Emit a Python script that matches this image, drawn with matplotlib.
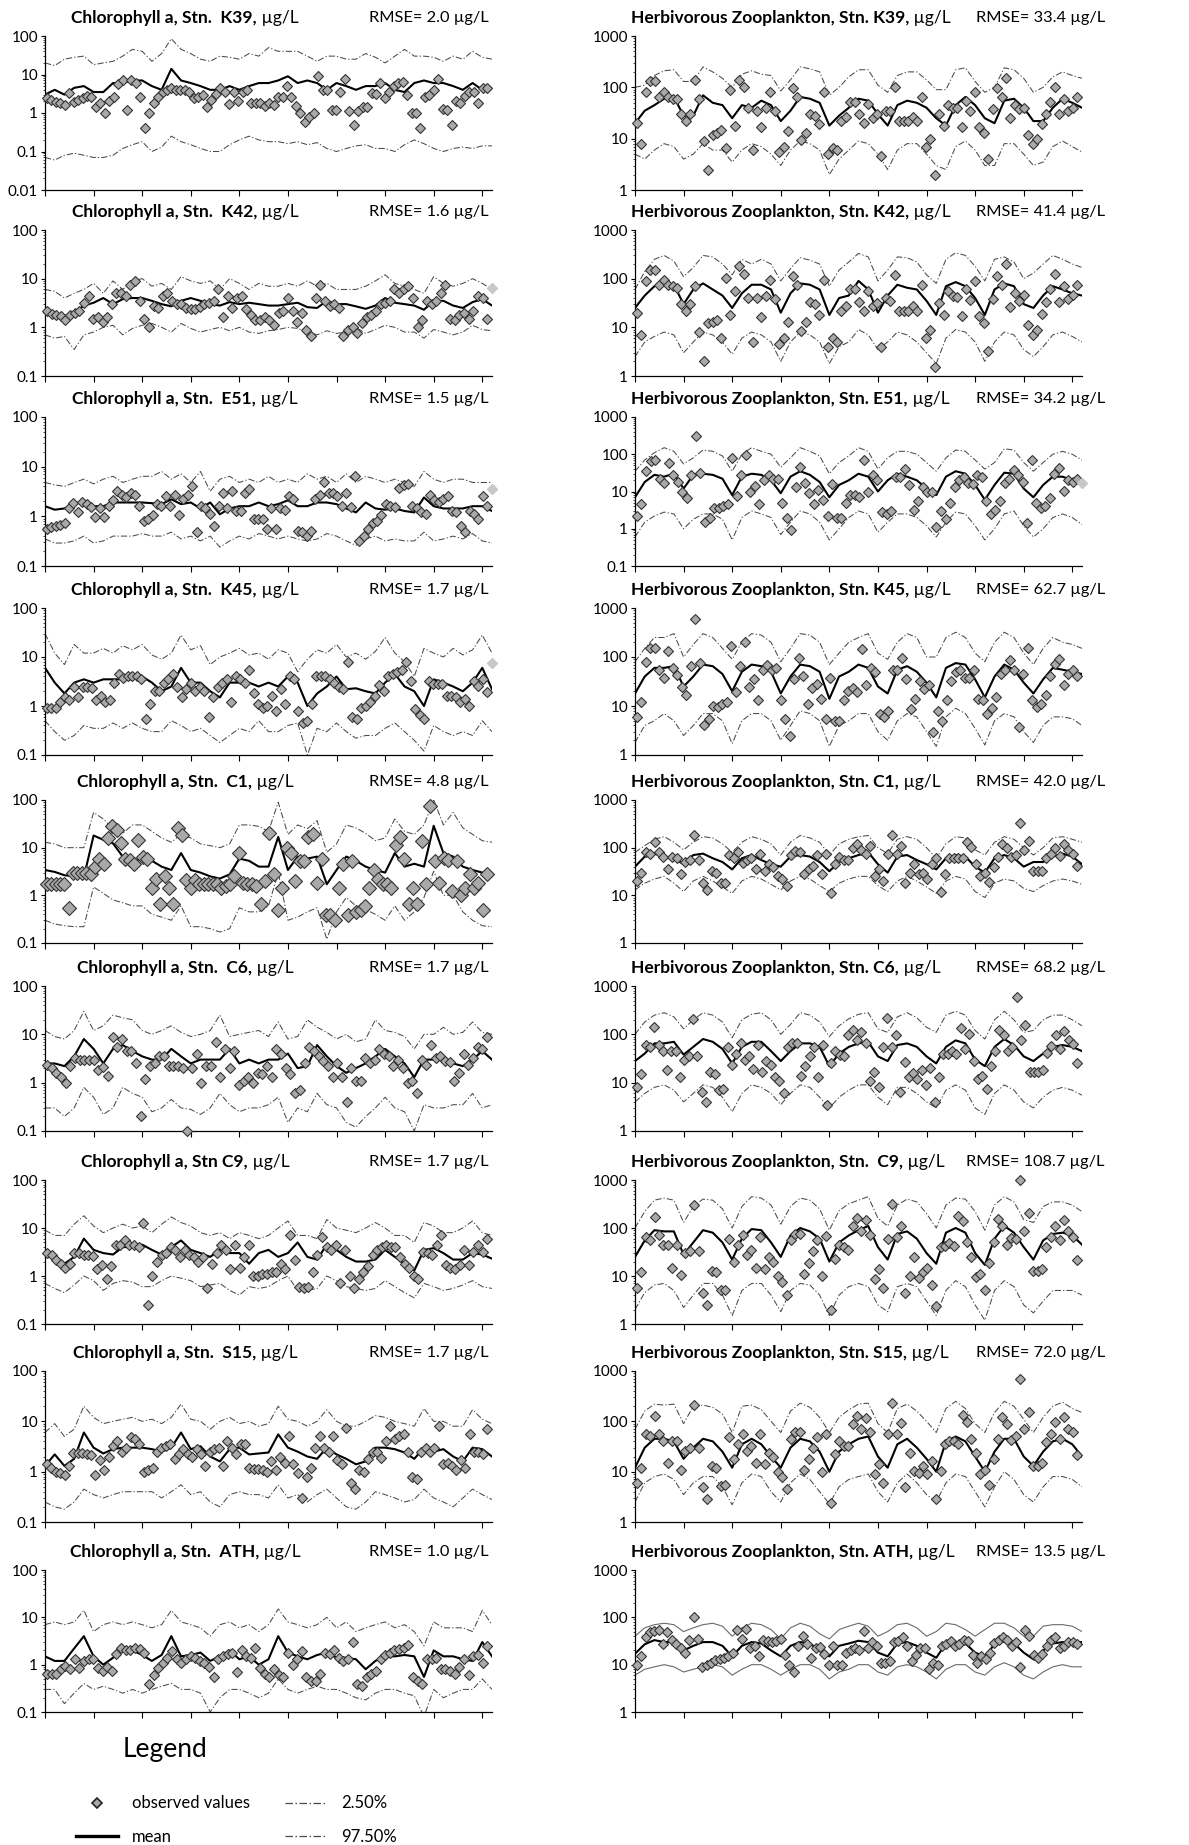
import numpy as np
import matplotlib
matplotlib.use('Agg')
import matplotlib.pyplot as plt
from matplotlib.lines import Line2D
from matplotlib.ticker import FixedLocator, LogLocator, NullFormatter, FuncFormatter

plt.rcParams['font.family'] = ['Lato', 'DejaVu Sans']

# ---------------- data ----------------
# lines: one value every 0.2 year, observations: roughly monthly
STEP = 0.2

stations = ['K39', 'K42', 'E51', 'K45', 'C1', 'C6', 'C9', 'S15', 'ATH']
chl_rmse = [2.0, 1.6, 1.5, 1.7, 4.8, 1.7, 1.7, 1.7, 1.0]
zoo_rmse = [33.4, 41.4, 34.2, 62.7, 42.0, 68.2, 108.7, 72.0, 13.5]
# faint extra point drawn at the right end of some panels
chl_edge = [None, 6.3, 3.5, 7.5, None, None, None, None, None]
zoo_edge = [None, None, 17, None, None, None, None, None, None]

# Chlorophyll a
chl_k39_hi = [20,17,25,28,30,18,20,22,30,45,40,22,35,85,45,35,25,22,30,28,25,35,30,50,40,40,40,30,22,30,30,25,25,35,28,20,30,45,30,30,28,22,30,25,40,28,25]
chl_k39_mean = [3,4,3,4.5,5,3.5,3.5,6,6,7,7,5,4,14,7,6,5,4,4,5,4,5,6,6,7,9,6,7,6,4,6,5,4,5,5,6,4,3.5,6,7,6,6,5,4,6,4,4.5]
chl_k39_lo = [0.07,0.06,0.08,0.09,0.08,0.07,0.07,0.08,0.12,0.15,0.18,0.1,0.13,0.25,0.18,0.15,0.12,0.1,0.1,0.15,0.2,0.25,0.2,0.18,0.18,0.16,0.18,0.15,0.17,0.12,0.1,0.12,0.14,0.15,0.12,0.12,0.1,0.15,0.2,0.16,0.12,0.1,0.12,0.13,0.12,0.14,0.14]
chl_k39_obs = [2.4,2.2,1.9,1.8,1.6,3.3,1.9,2.2,2.5,2.7,2.6,1.4,1.8,1.0,2.0,2.6,5.5,7,1.2,7,6,2.6,0.4,1.0,1.8,2.6,3.5,4,4.5,4,4,4,3.5,2.5,2.6,3,1.4,2.2,3.2,4.5,3.5,1.7,3.5,2,3.5,4,1.8,1.8,1.8,1.5,1.8,1.6,2.6,2.6,5,2.6,1.5,1.0,0.6,0.8,1.0,9,4,4,1.2,1.2,3.5,7.5,1.1,0.5,1.1,1.4,1.4,3.3,3.2,6,2.5,3.5,5,6,6.5,3,1.0,1.0,0.4,2.6,3,4,7.5,1.3,1.2,0.5,2,1.8,2.8,3.5,3.5,1.8,4.5,4.5]

chl_k42_hi = [6,5.5,4,5,6,8,5,9,6,9,10,7,8,6,11,9,8,9,6,10,8,6,8,7,7,8,7,9,7,8,6,6,6,7,9,12,8,7,6,5,11,8,7,8,10,8,6]
chl_k42_mean = [2.2,2,1.7,2,2.8,3.2,4,3,3.8,4,4,3.5,3,2.7,3.5,4,3.5,3,2.8,3.3,3,3.2,3,2.8,2.8,3,3.2,2.6,2.5,3.5,3,3,2.7,2.4,2.8,4,3.2,3,2.8,2.3,3.5,3.5,2.8,2.5,3.3,3.8,2.8]
chl_k42_lo = [0.7,0.6,0.65,0.35,0.7,0.8,1.0,1.1,0.7,0.95,1.1,1.2,1.0,0.8,1.2,0.95,0.8,0.9,1.0,0.85,1.0,0.8,0.75,0.85,0.9,1.0,0.95,0.8,0.7,0.85,0.75,0.8,1.0,0.75,0.9,1.1,1.0,0.8,0.8,0.6,0.9,0.8,0.7,0.8,1.1,0.9,0.85]
chl_k42_obs = [2.2,1.9,1.8,1.7,1.4,1.8,2.0,2.2,3.2,4.5,1.5,1.6,1.3,1.6,3,5,5,4.5,7.5,9,3.5,1.5,1.0,2.8,2.5,4.5,5,3.5,3,3,2.5,2.4,2.4,2.6,3,3.2,3.5,6,1.6,4.5,2.5,4,4.5,2.4,1.8,1.4,1.4,1.6,1.4,1.1,2.0,2.2,4,2.2,1.3,2.0,0.9,0.65,4,7.5,3.5,2.8,3.0,2.5,0.65,0.9,1.0,0.75,1.2,1.6,1.8,2.2,3,3.2,3.5,6,5,6,7,4,1.0,1.4,3.5,3,3.5,5,7.5,1.5,1.4,1.8,2.0,1.5,2.2,4.5,4,1.5]

chl_e51_hi = [4.8,4.3,4,4.8,5.6,4.5,5.6,6.4,4.8,5.6,6.4,6.4,8,5.6,7.2,4.8,8,3.2,5.6,6.4,4.8,5.6,4.8,6.4,4.8,5.6,4.8,7.2,5.6,6.4,4.8,7.2,4.8,6.4,5.6,4.8,5.6,4.8,4,8,5.6,4.8,5.6,5.6,4.8,4.8,4.8]
chl_e51_mean = [1.6,1.36,1.44,1.76,2.1,1.6,1.6,1.9,1.9,1.9,1.9,1.84,1.76,2.2,1.76,1.9,1.44,1.9,1.1,1.44,1.6,1.6,1.9,1.6,1.76,2.1,1.6,1.6,1.9,1.9,1.76,1.44,1.2,1.9,1.44,1.36,1.44,1.28,1.2,2.4,1.6,1.44,1.44,1.44,1.6,1.6,1.28]
chl_e51_lo = [0.35,0.29,0.29,0.32,0.4,0.29,0.32,0.4,0.4,0.4,0.45,0.4,0.4,0.48,0.35,0.4,0.32,0.4,0.24,0.32,0.4,0.35,0.45,0.4,0.35,0.4,0.35,0.32,0.35,0.45,0.4,0.32,0.26,0.35,0.4,0.32,0.35,0.32,0.32,0.48,0.32,0.35,0.4,0.35,0.45,0.32,0.29]
chl_e51_obs = [0.56,0.6,0.64,0.67,0.72,1.44,1.84,1.2,1.9,1.76,1.52,0.96,1.44,0.96,1.6,2.1,3.2,2.7,2.4,3,2.7,1.6,0.8,0.88,1.04,1.76,1.6,2.6,1.6,2.7,1.04,2.2,2.7,4,0.48,1.6,1.44,1.12,0.64,1.6,2.9,1.44,3.2,1.28,1.28,2.9,3.5,0.88,0.88,0.88,0.56,1.44,0.56,1.44,1.36,2.6,2.2,0.51,0.48,0.4,0.51,2.2,2.7,4.8,2.9,2.9,2.6,1.6,2.9,1.52,6.4,0.32,0.4,0.56,0.72,0.8,1.04,1.76,1.6,1.52,3.7,4.2,4.5,1.6,1.44,1.2,1.12,2.7,2.1,1.9,2.2,2.6,1.28,1.2,0.64,0.48,1.28,1.12,0.88,2.6,1.6]

chl_k45_hi = [30,12,7,18,12,12,15,12,17,14,18,11,9,12,28,14,17,7,10,12,15,11,12,9,14,12,5,9,14,12,18,10,12,9,13,25,12,8,4,15,12,10,15,11,14,28,12]
chl_k45_mean = [6,3,1.8,3,3.5,3,3.5,3.5,3.5,3.5,4,3,2,2.5,6,3,3,2,1.5,3,3,3,2.5,3,2.5,4,3,1.0,1.8,2.5,4,2.2,2.3,2,1.8,3,4.5,2.5,2,1.0,3.5,3,2.5,2,3,6,2.2]
chl_k45_lo = [0.5,0.3,0.2,0.25,0.4,0.35,0.35,0.45,0.35,0.45,0.35,0.3,0.3,0.5,0.4,0.3,0.35,0.25,0.18,0.25,0.35,0.3,0.5,0.3,0.3,0.4,0.45,0.1,0.35,0.3,0.45,0.3,0.22,0.25,0.25,0.35,0.45,0.3,0.2,0.12,0.4,0.3,0.25,0.3,0.25,0.5,0.3]
chl_k45_obs = [0.9,0.9,0.9,1.2,1.5,1.3,2.5,1.5,2.5,2.5,2.3,1.3,1.6,1.2,1.3,3,4.5,3.8,4,4,4,3.5,0.55,1.1,2.0,2.0,3,3.5,4.5,2.5,1.5,2.2,3,2,2.5,2.0,0.6,1.5,2.5,3,3.5,1.2,4,3.5,3,5.5,1.8,1.1,0.9,1.0,1.6,0.8,2.2,1.1,4,3.5,0.8,0.45,0.5,1.1,4,4,4,3.5,3,2.5,2.2,8,0.6,0.55,0.9,1.0,1.2,1.6,2.7,2.0,4,4.5,5,5.5,8,3.2,0.85,0.65,0.55,3.2,2.8,2.8,2.8,1.6,1.6,1.5,1.2,1.4,1.0,3.2,2.6,3.5,1.9]

chl_c1_hi = [13,12,10,10,10,55,40,25,20,30,30,22,16,13,19,16,12,11,10,12,30,30,28,22,90,19,30,25,37,8,12,30,26,20,14,16,40,22,19,30,100,30,55,26,19,14,13]
chl_c1_mean = [3.4,3.1,2.64,2.5,2.4,18,14.6,12.3,6.5,4.6,6.5,5.3,4,3.4,7.7,3.4,3,2.5,2.25,2.75,5.9,5.3,4,4,16.8,3.4,6.5,5.9,6.5,1.71,3.4,6.5,5.3,4,3.4,3,7.7,4,4.6,4,28.8,7.7,6.5,4,3.4,3,3]
chl_c1_lo = [0.3,0.25,0.23,0.22,0.22,1.5,1.1,0.8,0.7,0.6,0.6,0.4,0.35,0.3,0.6,0.22,0.22,0.2,0.17,0.2,0.55,0.45,0.45,0.6,3,0.3,0.35,0.45,0.55,0.12,0.45,0.9,0.6,0.5,0.4,0.3,0.6,0.3,0.45,0.9,3.2,1.0,1.0,0.45,0.3,0.23,0.22]
chl_c1_obs = [1.7,1.7,1.7,1.7,1.7,0.55,2.9,2.9,2.9,2.9,2.75,4,5.9,4.6,15.7,29,23.5,12.3,5.9,5.5,4.6,14.6,6.5,5.9,1.45,2.25,0.65,2.5,1.45,0.65,25.6,18,2.1,1.45,2.1,1.7,1.7,1.7,1.7,1.7,1.45,1.58,1.7,2.5,7.7,1.85,1.7,1.7,1.58,0.65,1.98,20,2.75,0.5,1.45,10,7.7,1.98,5.3,5.3,16.8,19,1.85,5.9,0.38,0.38,0.3,1.45,4.6,0.38,5.3,0.45,0.5,0.6,1.45,3.4,2.25,1.7,1.7,1.45,11.3,16.8,5.9,0.65,1.45,0.65,13.5,1.7,75,5.3,1.85,6.2,5.5,1.25,5.3,1.04,1.45,2.75,1.45,1.85,0.5,2.75]

chl_c6_hi = [12,9,8,12,30,12,15,25,22,20,12,10,12,15,11,9,10,12,25,9,10,11,12,9,18,8,9,20,14,11,8,10,7,8,20,12,11,9,5,10,10,14,10,11,18,11,10]
chl_c6_mean = [2.5,2.5,2.2,3.5,8,5,2.5,5,6,4.5,3.5,3,3,5,3.5,2.5,3,3,3,5,2.5,3,2.5,3,3,4,2,2.2,6,3.5,2.2,1.6,2,2.5,3.5,5,3.5,2.5,1.3,3,3,3,2.5,2.2,3,4.5,3]
chl_c6_lo = [0.3,0.3,0.2,0.3,0.8,0.5,0.22,0.3,0.8,0.6,0.5,0.25,0.3,0.45,0.3,0.28,0.22,0.3,0.6,0.35,0.25,0.3,0.3,0.35,0.5,0.15,0.3,0.25,0.6,0.35,0.3,0.15,0.12,0.2,0.3,0.5,0.3,0.25,0.1,0.35,0.3,0.3,0.35,0.35,0.6,0.3,0.35]
chl_c6_obs = [2.3,2,1.6,1.3,1.0,2.2,3.2,3,3,3,3,1.8,2.1,1.4,9,5.5,8,4.5,4.5,2.5,0.2,1.2,2.2,2.5,3.5,3.5,2.2,2.2,2.2,2.0,0.1,2.0,4,1.0,2.2,2.2,7,1.3,5,2,4.5,0.9,1.1,1.3,1.0,1.6,1.5,2.2,1.3,5,4,2.0,1.5,0.6,0.7,2.6,5.5,4.5,3.5,2.8,2.2,1.3,2.5,1.3,0.4,2.0,1.1,1.1,3.3,2.6,3,5,4,3.5,2.2,3,2.0,1.0,1.1,0.6,3,2.3,6,3.3,3.5,2.8,2.7,1.1,1.6,4,2.3,3.3,5.5,5,9]

chl_c9_hi = [9,7,7,12,18,11,8,10,12,10,11,8,12,17,13,11,8,7,8,6,8,7,6,7,10,14,7,7,6,15,10,9,8,10,13,10,7,7,5,13,11,8,8,10,14,8,7]
chl_c9_mean = [2.8,2.2,1.8,2.5,6,3.5,3,2.8,4,4,4.5,3.5,2.8,4,5.5,3.5,3,2.5,3.5,3,3,1.8,3,3.5,2.5,3,5,2.5,2.2,4.5,3.5,2.5,2,2,2.2,3.5,2.5,1.8,1.3,3.5,3.8,3,2.2,2.2,3,2.8,2.3]
chl_c9_lo = [0.7,0.55,0.45,0.65,1.0,0.8,0.5,0.7,0.8,0.75,0.6,0.6,0.8,1.0,0.9,0.8,0.6,0.65,0.7,0.5,0.4,0.6,0.55,0.6,0.8,1.0,0.5,0.5,0.55,1.0,0.8,0.6,0.55,0.5,0.55,0.8,0.6,0.45,0.35,0.7,0.6,0.5,0.55,0.65,0.8,0.6,0.55]
chl_c9_obs = [3,2.7,2.2,1.8,1.5,1.8,3,3,2.8,2.8,2.6,1.4,1.7,0.85,1.6,4.5,4.5,5.5,4.5,4.5,4,13,0.25,1.0,2,2.8,3,4,3.5,2.5,3.5,2.8,2.5,2.0,2.5,0.55,1.8,3,4.5,3.5,1.4,4.5,1.5,2.5,4.5,1.0,1.0,1.1,1.1,1.2,1.2,1.8,1.4,7,2.2,0.6,0.55,0.6,1.2,2.8,6.5,4,3.5,4.5,0.7,3.5,1.0,0.55,0.85,1.2,1.6,2.8,3.5,4,4.5,4,4,2.5,1.8,1.5,1.0,0.85,3.2,3,2.8,4.5,7,1.7,1.5,1.4,1.7,3.5,1.7,3.2,4.5,3.2,6]

chl_s15_hi = [6,9,5,7,20,12,9,10,11,12,10,11,9,12,22,11,10,7,10,12,9,10,8,9,20,11,10,8,10,17,10,8,8,10,13,12,10,9,8,18,10,10,8,8,17,11,9]
chl_s15_mean = [1.3,2.2,1.3,1.8,6,3,2.3,2.8,3,3,3,2.8,2.5,3,6,2.8,3.2,2,1.6,2.8,3,2.2,2.3,2.4,5.5,3,2.5,2,1.8,3,2.2,1.8,1.4,1.6,3,3,2.8,2.4,1.8,3,2.5,2.8,2,1.6,3,2.8,2]
chl_s15_lo = [0.25,0.2,0.18,0.25,0.45,0.35,0.3,0.35,0.4,0.4,0.4,0.4,0.3,0.4,0.55,0.35,0.4,0.25,0.2,0.35,0.4,0.35,0.35,0.3,0.55,0.3,0.35,0.25,0.35,0.45,0.3,0.2,0.18,0.25,0.4,0.35,0.3,0.25,0.28,0.45,0.3,0.25,0.2,0.3,0.45,0.35,0.28]
chl_s15_obs = [1.4,1.2,1.0,0.95,0.85,1.3,2.3,2.3,2.3,2.2,2.1,0.85,1.7,1.1,2.0,3.3,4,2.5,3,4.8,4.5,3.5,1.0,1.1,1.2,2.5,3,3.2,3.5,1.8,2.2,2.8,2.2,2.0,2.8,2.2,1.3,2.5,2.8,3,1.3,4,3,2.2,3.5,3.5,1.2,1.15,1.15,1.1,1.0,1.6,1.1,2.0,1.5,5,1.4,0.95,0.3,0.8,1.2,3,5,3,2.5,5,1.7,1.4,7.5,0.6,0.45,1.1,1.0,1.8,2.5,2.5,1.9,4,8,4.5,5,5.5,2.5,0.8,0.7,2.5,3,2.5,3,8,1.4,1.5,1.3,1.1,1.7,1.2,5.5,2.5,2.5,2.2,7]

chl_ath_hi = [7,8,7,8,14,5,7,8,7,8,7,6,7,14,8,7,6,4,7,8,6,7,5,7,15,8,7,6,7,10,6,8,5,6,7,8,6,7,5,2.5,8,6,6,6,5,14,7]
chl_ath_mean = [1.5,1.2,1.2,2.2,4,1.5,1.0,1.4,2,2,1.6,1.2,1.6,4,1.5,1.6,1.8,1.2,1.5,2,1.3,1.5,1.0,1.3,4,1.8,1.5,1.3,1.6,1.8,1.4,1.4,1.3,0.8,1.2,1.5,1.5,1.6,1.5,0.55,2,1.5,1.5,1.3,1.2,3,1.5]
chl_ath_lo = [0.3,0.3,0.15,0.25,0.4,0.3,0.35,0.3,0.25,0.3,0.25,0.3,0.35,0.4,0.3,0.3,0.25,0.1,0.2,0.3,0.3,0.25,0.2,0.25,0.5,0.3,0.25,0.3,0.35,0.3,0.3,0.25,0.2,0.18,0.25,0.3,0.3,0.25,0.22,0.08,0.3,0.2,0.25,0.3,0.3,0.5,0.3]
chl_ath_obs = [0.65,0.65,0.65,0.8,0.95,0.8,1.3,0.85,1.2,1.3,1.3,0.85,0.75,0.9,0.75,1.7,2.2,2,2,2.2,2.1,1.8,0.4,0.6,0.85,1.1,1.4,1.9,1.3,1.1,1.3,1.5,1.4,1.2,1.1,0.9,0.55,1.3,1.5,1.7,1.8,0.7,2,1.5,1.4,2.2,0.85,0.65,0.55,0.8,0.6,0.55,1.8,1.0,1.3,1.9,0.55,0.45,0.45,0.65,1.8,1.7,2.0,1.4,1.2,1.3,3,0.4,0.35,0.55,0.65,0.75,1.3,1.6,1.8,2,2.1,2.3,2.6,0.55,0.45,0.4,1.3,1.3,1.4,0.8,0.8,0.75,0.65,0.9,1.3,0.6,1.5,1.6,1.1,2.5]

# Herbivorous zooplankton
zoo_k39_hi = [100,110,170,210,220,130,130,250,200,150,100,180,210,180,170,85,140,250,230,200,70,100,160,220,220,110,80,170,200,200,140,90,90,220,240,130,80,100,240,220,150,80,100,160,200,170,150]
zoo_k39_mean = [20,35,45,60,65,28,28,70,50,45,25,45,40,55,45,22,35,65,60,50,18,28,40,60,55,30,18,45,55,50,40,25,18,45,65,45,25,20,55,60,40,22,22,40,60,50,40]
zoo_k39_lo = [5,4,6,8,7,4,5,8,6,6,3.5,6,8,7,5,3,6,9,8,6,2,4,6,9,8,5,2.5,6,8,8,5,3,2.5,7,9,6,3,3,8,8,5,3,3.5,7,9,7,5.5]
zoo_k39_obs = [20,8,80,130,130,65,80,65,60,60,30,22,30,140,60,9,2.5,12,13,15,6.5,90,18,140,100,40,6,35,17,40,80,35,5.5,7,14,95,65,9.5,13,30,28,19,80,5,6.5,6,22,27,52,52,30,20,48,25,30,4.5,35,35,100,22,22,22,27,22,65,7,10,2,30,18,45,40,40,17,55,35,80,17,13,4,38,95,65,150,25,45,38,40,12,8,10,19,30,52,100,30,60,35,40,65]

zoo_k42_hi = [60,140,250,300,230,110,170,300,280,200,120,250,200,250,200,90,160,270,240,200,70,150,220,330,280,90,150,280,270,220,120,80,250,340,300,180,90,250,280,220,100,130,200,300,250,200,170]
zoo_k42_mean = [25,45,70,80,75,30,60,80,60,45,25,50,75,75,60,20,50,80,75,60,18,40,45,90,60,20,45,75,65,60,35,18,70,85,70,40,18,60,80,70,30,25,45,70,60,50,45]
zoo_k42_lo = [2.5,5,6.5,8,7,3,5,8,7,5,2.8,6,8,7,5,2,5,8,7,5,1.8,4,5,9,7,3.5,5,8,7,5,3,1.8,6,9,8,5,2,5,8,7,3.5,2.5,4,7,8,6.5,5]
zoo_k42_obs = [20,7,90,150,150,75,95,75,70,65,30,22,30,70,8,2,12,13,14,6,105,18,55,180,125,40,5,40,16,45,95,38,4.5,6,13,115,75,8.5,13,33,30,18,95,4,6,5,22,28,60,60,33,22,55,28,32,4,40,35,120,22,22,22,28,22,75,6,9,1.5,32,18,55,45,42,17,60,37,90,17,12,3.2,38,115,75,200,26,50,35,47,11,7,9,19,33,60,125,33,70,38,47,75]

zoo_e51_hi = [35,70,110,150,120,55,80,130,120,90,35,100,150,120,100,45,80,150,120,90,30,60,90,150,120,40,80,120,120,100,60,35,80,130,120,70,40,60,140,130,60,35,60,100,120,100,70]
zoo_e51_mean = [7,18,28,25,30,12,28,30,28,22,8,25,30,28,20,9,25,35,28,18,7,15,20,30,25,10,20,30,25,20,12,8,25,35,30,15,6,15,32,30,12,7,15,25,25,20,18]
zoo_e51_lo = [0.6,1.5,2.2,2.8,2.5,1,1.8,2.5,2.5,1.8,0.5,2,3,2.5,2,0.7,1.5,3,2.5,1.5,0.5,1,2,3,2.5,0.8,1.5,2.5,2.5,2,1.2,0.6,1.5,2.8,2.5,1.2,0.5,1,2.5,3,1.2,0.6,1,2,2.5,2,1.3]
zoo_e51_obs = [2.2,4.5,35,65,70,22,17,60,27,18,10,6.5,28,300,32,1.5,2,3.5,3.5,4,4.5,80,7.5,28,95,10,14,4.5,20,28,22,22,5,2,0.9,13,45,17,9,4.5,11,6,2.2,16,2,2,5,8,8,7,70,10,28,20,2.8,2.5,3,25,25,40,15,3.2,5.5,13,9.5,10,1.1,3,1.8,5,13,20,25,17,16,28,25,5.5,2.5,3.2,5.5,17,22,38,27,18,1.4,70,5,3.5,4,6.5,30,42,10.5,20,18,22]

zoo_k45_hi = [80,150,250,250,300,100,180,300,250,150,90,200,300,280,200,80,150,300,280,200,70,120,200,250,300,120,90,200,300,250,100,100,250,320,250,120,80,200,320,250,120,70,150,250,200,180,150]
zoo_k45_mean = [18,40,60,60,65,25,40,70,65,45,20,50,70,65,50,18,40,70,65,50,14,40,50,70,60,25,18,55,65,50,30,15,60,75,70,35,15,40,70,55,30,18,35,60,55,50,45]
zoo_k45_lo = [1.8,4,5,7,5,2.5,4,7,7,5,1.7,5,7,7,5,2,4,8,7,5,1.5,4,5,7,7,3,2,5,7,6,3,1.5,6,9,7,3.5,1.6,5,7,6,3,1.8,4,6,6,5.5,4]
zoo_k45_obs = [6,12,80,150,150,55,38,130,60,42,24,17,65,600,75,4,5.5,10,9.5,11,12,170,19,65,200,25,35,13,55,70,55,60,13,5.5,2.5,35,95,40,11,23,28,14,5.5,38,5,5,13,20,23,19,145,27,60,50,7,6,8,55,55,95,35,8.5,14,32,22,27,3,8,5,13,32,50,55,38,38,55,14,13,7,9,15,45,55,85,55,3.8,45,150,13,9.5,11,17,40,72,90,27,45,55,40]

zoo_c1_hi = [80,110,150,170,130,90,130,170,160,120,80,130,170,150,120,70,130,180,160,130,70,120,150,170,180,100,75,150,170,150,100,60,120,170,160,90,70,130,170,150,100,70,100,160,170,150,130]
zoo_c1_mean = [40,65,75,65,60,45,70,75,60,50,35,60,70,55,45,40,65,70,65,50,32,50,60,70,80,45,30,65,70,55,45,35,60,70,65,40,30,60,70,60,40,50,50,65,75,65,45]
zoo_c1_lo = [13,18,22,25,18,12,20,25,20,15,11,20,25,22,17,13,20,25,22,16,12,18,22,25,25,16,12,20,25,20,15,11,20,25,22,12,9,18,22,20,14,12,16,20,22,20,17]
zoo_c1_obs = [20,30,80,75,130,80,65,35,65,60,28,50,55,180,55,18,13,33,30,18,18,70,60,80,48,55,60,35,75,33,45,40,25,22,16,70,85,80,28,35,42,70,28,75,11,45,65,55,55,100,120,90,75,110,25,35,20,75,180,75,110,18,30,45,28,30,22,45,60,12,28,60,60,60,60,130,105,45,25,30,19,40,65,120,100,65,70,330,90,140,32,32,33,60,75,100,68,120,90,75,42]

zoo_c6_hi = [100,180,250,280,230,130,200,280,250,180,85,200,260,280,200,100,160,280,250,180,90,150,210,260,280,130,110,230,280,220,140,110,250,300,250,120,80,200,300,200,110,120,200,250,250,200,150]
zoo_c6_mean = [28,40,65,65,70,38,55,80,70,50,25,55,70,70,45,28,45,65,65,55,22,40,55,65,70,35,28,60,65,55,35,25,55,75,65,30,22,55,80,60,35,28,40,55,60,55,45]
zoo_c6_lo = [4,6,8,9,7,4,6,9,8,5,2.5,6,9,8,6,3.5,6,9,8,5,3,5,7,9,9,5,3.5,8,8,6,4,3,7,9,7,3,2.2,6,9,7,4,3,5,7,8,7,5.5]
zoo_c6_obs = [8,15,60,55,140,60,45,18,45,45,13,30,35,210,35,6.5,4,17,15,7,7.5,55,23,40,65,30,35,19,60,17,28,23,13,11,6,55,65,65,14,22,35,55,13,60,3.5,26,45,38,35,95,125,75,110,65,11,17,8,55,220,55,95,6.5,27,13,16,12,18,9,20,4,13,40,40,45,40,135,50,100,28,12,14,7.5,22,45,125,95,45,55,600,75,155,17,17,17,18,42,58,95,50,115,75,62,25]

zoo_c9_hi = [100,220,380,420,380,130,280,400,380,250,100,280,450,420,300,120,280,420,380,250,90,230,320,380,450,160,110,300,400,350,200,100,300,420,400,220,90,300,450,350,150,130,280,350,350,300,220]
zoo_c9_mean = [25,55,90,85,85,28,50,90,80,50,22,60,95,90,50,25,70,100,85,60,20,50,70,90,110,40,22,75,85,60,30,18,80,100,80,30,17,60,110,80,40,22,55,75,80,70,45]
zoo_c9_lo = [2,4.5,6.5,7,5,2.2,4,7,7,4,1.5,5,7,7,4,1.8,5,7,6.5,4,1.5,4,6,7,6,2.5,1.8,6,7,6,3,1.5,5,8,6,2.5,1.2,5,8,6,2.5,1.7,3,5,5,5,4]
zoo_c9_obs = [5.5,12,65,55,170,70,45,45,15,45,10.5,30,33,300,33,4.5,2.5,13,12,5,5,60,20,45,70,28,35,15,65,14,25,20,10,7.5,4,55,75,75,11,19,33,55,10,68,2,23,45,40,35,110,165,85,145,70,8.5,14,5.5,60,320,65,110,4.5,10,25,9,12,15,6.5,2.4,40,42,48,42,175,140,52,25,9.5,11,5,19,50,155,110,45,62,60,1000,85,210,13,13,14,40,65,110,55,150,85,65,22]

zoo_s15_hi = [70,160,220,210,220,90,200,210,190,140,60,200,210,170,100,60,160,230,190,120,60,120,170,220,230,90,60,180,220,160,100,60,180,250,180,90,60,150,250,200,110,60,120,200,240,180,150]
zoo_s15_mean = [12,30,45,45,40,18,30,45,40,25,12,35,45,35,20,12,30,45,40,25,10,25,35,45,50,20,12,35,45,30,18,10,40,50,40,20,10,25,45,45,20,13,25,40,45,35,20]
zoo_s15_lo = [2.5,6,8,9,7,3.5,6,8,8,5,2.2,6,9,8,4,2.5,6,9,7,4,2.3,5,7,8,9,4,2.5,6,9,6,3.5,2.5,6,9,8,4,2,5,10,7,3.5,2.5,5,8,8,7,5]
zoo_s15_obs = [6,12,55,50,130,55,40,15,40,40,11,26,30,210,30,5,2.8,13,12,5.3,5.5,48,18,36,55,26,32,15,55,14,23,20,10,8,4.5,45,60,60,11,18,30,48,10,55,2.4,22,40,33,32,88,125,70,115,60,9,14,6,55,230,55,92,5,23,10.5,9.5,13,9,16,2.8,10.5,35,40,40,35,135,95,45,24,9,11,5.5,18,45,120,90,42,50,700,70,155,13,13,15,38,55,95,45,120,72,60,21]

zoo_ath_hi = [40,60,70,75,70,50,60,70,75,65,40,60,75,70,55,35,60,75,65,45,35,55,65,75,65,40,50,70,75,60,40,50,75,70,55,40,55,75,75,60,40,40,65,70,70,65,50]
zoo_ath_mean = [17,27,33,30,30,20,25,30,30,25,15,25,30,28,20,15,25,30,28,20,15,25,28,32,30,18,15,28,30,25,18,14,28,30,28,18,15,27,33,28,18,13,20,28,30,30,30]
zoo_ath_lo = [6,8,9,10,9,7,8,9,10,9,6,8,10,10,8,6,8,10,10,8,5,7,8,10,10,7,6,9,10,9,7,5,8,10,10,7,6,9,11,9,6,5,7,9,10,9,9]
zoo_ath_obs = [10,15,38,50,52,55,27,48,33,27,22,18,33,100,35,9,10,11,12.5,13,14,15,18,55,35,58,23,25,15,33,32,30,32,35,16,10,7,25,40,27,14,22,24,17,10,25,10,10,18,20,22,20,52,23,30,25,11,11,12,30,32,38,25,12,16,23,22,8,11,10,25,28,31,25,28,33,32,16,11,15,13,18,29,33,38,33,25,30,9,55,40,16,14,17,25,33,38,22,25,30,30,27]

# ---------------- layout ----------------
W, H = 1189, 1845
fig = plt.figure(figsize=(W / 100, H / 100), dpi=100)
renderer = fig.canvas.get_renderer()

row_top = [36, 230, 417, 608, 800, 986, 1180, 1371, 1570]
row_bot = [190, 376, 566, 755, 943, 1131, 1324, 1522, 1712]
col_x = [(45, 492), (635, 1082)]

PCT_COLOR = '#4a4a4a'
PCT_DASH = (6, 2, 1.2, 2)


def log_label(v, pos):
    return f'{v:g}'


def panel(col, row, obs, mean, lo, hi, ylim, bold, rmse, edge=None, solid=False, ms=5.5):
    x0, x1 = col_x[col]
    ax = fig.add_axes([x0 / W, 1 - row_bot[row] / H, (x1 - x0) / W,
                       (row_bot[row] - row_top[row]) / H])
    t = np.arange(len(mean)) * STEP
    if solid:
        ax.plot(np.arange(len(lo)) * STEP, lo, color='#6a6a6a', lw=0.8)
        ax.plot(np.arange(len(hi)) * STEP, hi, color='#6a6a6a', lw=0.8)
    else:
        ax.plot(np.arange(len(lo)) * STEP, lo, color=PCT_COLOR, lw=0.75, dashes=PCT_DASH)
        ax.plot(np.arange(len(hi)) * STEP, hi, color=PCT_COLOR, lw=0.75, dashes=PCT_DASH)
    ax.plot(t, mean, color='black', lw=1.5)
    tobs = np.linspace(0.04, 9.1, len(obs))
    ax.plot(tobs, obs, ls='none', marker='D', ms=ms, mfc='#a9a9a9',
            mec='#333333', mew=0.8, clip_on=False, zorder=3)
    if edge is not None:
        ax.plot([t[-1]], [edge], ls='none', marker='D', ms=ms, mfc='#c8c8c8',
                mec='#c8c8c8', clip_on=False, zorder=3)

    ax.set_yscale('log')
    ax.set_ylim(*ylim)
    ax.set_xlim(0, 9.2)
    decades = [10.0 ** k for k in range(int(round(np.log10(ylim[0]))),
                                        int(round(np.log10(ylim[1]))) + 1)]
    ax.yaxis.set_major_locator(FixedLocator(decades))
    ax.yaxis.set_major_formatter(FuncFormatter(log_label))
    ax.yaxis.set_minor_locator(LogLocator(base=10, subs=np.arange(2, 10)))
    ax.yaxis.set_minor_formatter(NullFormatter())
    ax.set_xticks(np.arange(0, 10))
    ax.tick_params(axis='x', direction='out', length=4, width=0.8, labelbottom=False)
    ax.tick_params(axis='y', which='major', direction='out', length=3, width=0.8,
                   labelsize=11, pad=2, colors='black')
    ax.tick_params(axis='y', which='minor', direction='out', length=1.5, width=0.5)
    for s in ['top', 'right']:
        ax.spines[s].set_visible(False)
    for s in ['left', 'bottom']:
        ax.spines[s].set_linewidth(0.9)

    # title: bold part followed by regular unit
    y = 1 - (row_top[row] - 18) / H
    tb = fig.text(0, y, bold, fontsize=12.5, fontweight='bold', va='center')
    tn = fig.text(0, y, ' \u00b5g/L', fontsize=12.5, va='center')
    wb = tb.get_window_extent(renderer).width
    wn = tn.get_window_extent(renderer).width
    start = 185 - (wb + wn) / 2 if col == 0 else 631
    tb.set_x(start / W)
    tn.set_x((start + wb) / W)
    xr = 489 if col == 0 else 1105
    fig.text(xr / W, y, f'RMSE= {rmse:.1f} \u00b5g/L', fontsize=11.8, ha='right', va='center')
    return ax


chl = [
    (chl_k39_obs, chl_k39_mean, chl_k39_lo, chl_k39_hi),
    (chl_k42_obs, chl_k42_mean, chl_k42_lo, chl_k42_hi),
    (chl_e51_obs, chl_e51_mean, chl_e51_lo, chl_e51_hi),
    (chl_k45_obs, chl_k45_mean, chl_k45_lo, chl_k45_hi),
    (chl_c1_obs, chl_c1_mean, chl_c1_lo, chl_c1_hi),
    (chl_c6_obs, chl_c6_mean, chl_c6_lo, chl_c6_hi),
    (chl_c9_obs, chl_c9_mean, chl_c9_lo, chl_c9_hi),
    (chl_s15_obs, chl_s15_mean, chl_s15_lo, chl_s15_hi),
    (chl_ath_obs, chl_ath_mean, chl_ath_lo, chl_ath_hi),
]
zoo = [
    (zoo_k39_obs, zoo_k39_mean, zoo_k39_lo, zoo_k39_hi),
    (zoo_k42_obs, zoo_k42_mean, zoo_k42_lo, zoo_k42_hi),
    (zoo_e51_obs, zoo_e51_mean, zoo_e51_lo, zoo_e51_hi),
    (zoo_k45_obs, zoo_k45_mean, zoo_k45_lo, zoo_k45_hi),
    (zoo_c1_obs, zoo_c1_mean, zoo_c1_lo, zoo_c1_hi),
    (zoo_c6_obs, zoo_c6_mean, zoo_c6_lo, zoo_c6_hi),
    (zoo_c9_obs, zoo_c9_mean, zoo_c9_lo, zoo_c9_hi),
    (zoo_s15_obs, zoo_s15_mean, zoo_s15_lo, zoo_s15_hi),
    (zoo_ath_obs, zoo_ath_mean, zoo_ath_lo, zoo_ath_hi),
]

for i, st in enumerate(stations):
    sep = ' ' if st == 'C9' else '.  '
    o, m, lo, hi = chl[i]
    panel(0, i, o, m, lo, hi, (0.01, 100) if st == 'K39' else (0.1, 100),
          f'Chlorophyll a, Stn{sep}{st},', chl_rmse[i], edge=chl_edge[i],
          ms=7.5 if st == 'C1' else 5.5)
    o, m, lo, hi = zoo[i]
    zsep = '.  ' if st == 'C9' else '. '
    panel(1, i, o, m, lo, hi, (0.1, 1000) if st == 'E51' else (1, 1000),
          f'Herbivorous Zooplankton, Stn{zsep}{st},', zoo_rmse[i], edge=zoo_edge[i],
          solid=(st == 'ATH'))

# legend
fig.text(123 / W, 1 - 1750 / H, 'Legend', fontsize=19, va='center')
handles = [
    Line2D([], [], ls='none', marker='D', ms=5.5, mfc='#a9a9a9', mec='#222222', mew=1.2),
    Line2D([], [], color='black', lw=2.4),
    Line2D([], [], color=PCT_COLOR, lw=0.9, dashes=PCT_DASH),
    Line2D([], [], color=PCT_COLOR, lw=0.9, dashes=PCT_DASH),
]
labels = ['observed values', 'mean', '2.50%', '97.50%']
fig.legend(handles, labels, ncol=2, frameon=False, loc='upper left',
           bbox_to_anchor=(68 / W, 1 - 1787 / H), fontsize=12, borderpad=0,
           handlelength=2.5, handletextpad=0.85, columnspacing=2.1, labelspacing=1.05)

fig.savefig('out.png', dpi=100)
